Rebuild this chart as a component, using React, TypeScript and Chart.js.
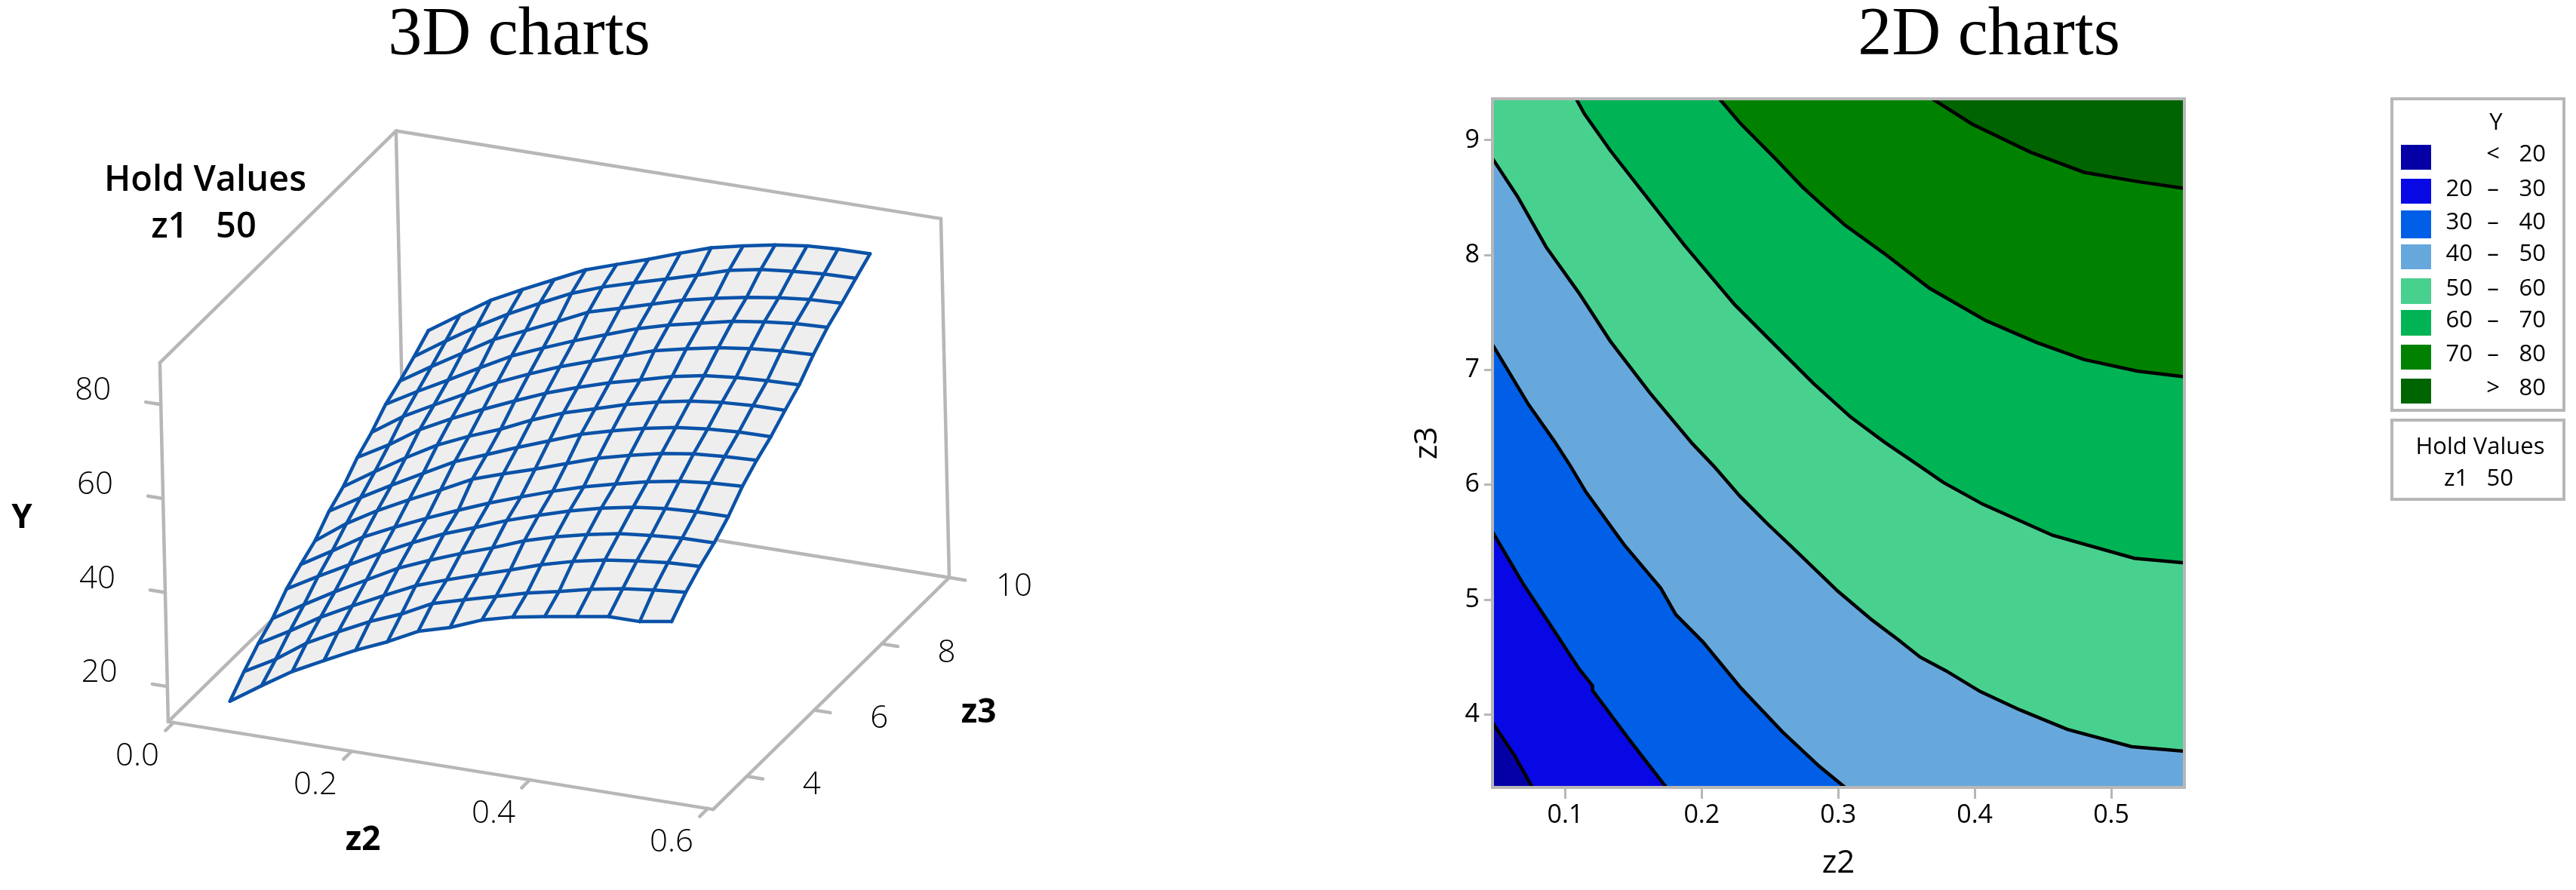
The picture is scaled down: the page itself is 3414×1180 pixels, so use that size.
import React, { useEffect, useRef } from "react";
import { Chart, registerables } from "chart.js";

Chart.register(...registerables);

// ---------- data ----------
const meshZ2 = [0.05, 0.086, 0.121, 0.157, 0.193, 0.229, 0.264, 0.3, 0.336, 0.371, 0.407, 0.443, 0.479, 0.514, 0.55];
const meshZ3 = [3.364, 3.793, 4.221, 4.65, 5.079, 5.507, 5.936, 6.364, 6.793, 7.221, 7.65, 8.079, 8.507, 8.936, 9.364];
const meshY = [
  [16, 20.4, 24.5, 27.9, 31.2, 34.1, 37.4, 39.3, 42, 43.7, 44.9, 46, 47.1, 47.1, 48.2],
  [19.3, 23, 27.5, 31, 34.3, 37, 40.3, 42.2, 44, 45.8, 47.2, 48.8, 50, 50.8, 51.4],
  [22.2, 26, 30, 33.5, 36.8, 40, 42.3, 44.5, 46.6, 48.8, 50.6, 52, 52.9, 53.6, 53.9],
  [24.5, 28.6, 32.4, 36, 39.6, 42.4, 44.9, 47.2, 49.8, 51.7, 53.3, 54.6, 55.3, 55.8, 55.9],
  [27.8, 31.6, 35.1, 38.7, 42, 45, 47.4, 50, 52.2, 54.2, 55.9, 57.2, 58, 58.4, 58.5],
  [30, 34, 38, 41.2, 44.2, 47, 49.6, 52, 54.3, 56.3, 58, 59.6, 60.8, 61.5, 61.9],
  [32, 36.8, 40.6, 44, 47.2, 50.6, 52.8, 54.9, 57.2, 59.4, 61.1, 62.6, 63.6, 64.1, 64.4],
  [35.3, 39.3, 43, 46.6, 50.2, 52.8, 55.4, 57.9, 60.4, 62.2, 63.8, 65.1, 65.9, 66.3, 66.4],
  [37.5, 41.8, 45.8, 49.6, 52.6, 55.2, 58.2, 60.8, 62.8, 64.8, 66.4, 67.7, 68.5, 68.9, 69],
  [40.7, 44.5, 48.8, 52.2, 55.3, 58.2, 60.9, 63.2, 65.3, 67, 68.8, 70.1, 70.8, 71.2, 71.4],
  [43, 47.5, 51, 54.5, 58, 60.9, 63.5, 65.8, 68, 70.2, 71.7, 73, 73.9, 74.5, 74.8],
  [46, 49.8, 53.3, 57, 60.6, 63.4, 66, 68.4, 70.8, 72.6, 74.1, 75.6, 76.6, 77.3, 77.6],
  [47.9, 52.1, 56, 60, 63, 66, 69.1, 71, 73, 74.9, 76.4, 77.7, 78.7, 79.4, 79.7],
  [50.1, 54.5, 58.6, 62.4, 65.8, 69, 71.4, 73.4, 75.3, 77.2, 79.3, 80.6, 81.3, 81.8, 82],
  [52.6, 57, 61.2, 64.6, 67.8, 71, 73.2, 75.4, 77.8, 80, 81.5, 82.8, 83.7, 84.1, 84.2],
];

const z2Ticks3D = [0, 0.2, 0.4, 0.6];
const z3Ticks3D = [4, 6, 8, 10];
const yTicks3D = [20, 40, 60, 80];

const contour20 = [[0.0467, 3.93], [0.063, 3.64], [0.076, 3.365]];
const contour30 = [[0.0467, 5.59], [0.069, 5.14], [0.088, 4.8], [0.11, 4.4], [0.12, 4.25], [0.12, 4.21], [0.147, 3.78], [0.174, 3.365]];
const contour40 = [[0.0467, 7.22], [0.073, 6.7], [0.092, 6.38], [0.104, 6.16], [0.115, 5.94], [0.143, 5.48], [0.17, 5.1], [0.181, 4.87], [0.201, 4.63], [0.228, 4.24], [0.259, 3.85], [0.286, 3.55], [0.305, 3.365]];
const contour50 = [[0.0467, 8.84], [0.065, 8.51], [0.086, 8.07], [0.11, 7.67], [0.133, 7.25], [0.162, 6.8], [0.193, 6.36], [0.209, 6.16], [0.228, 5.9], [0.249, 5.65], [0.265, 5.47], [0.3, 5.07], [0.325, 4.82], [0.344, 4.65], [0.36, 4.5], [0.379, 4.38], [0.404, 4.2], [0.433, 4.04], [0.468, 3.87], [0.515, 3.72], [0.5536, 3.68]];
const contour60 = [[0.108, 9.36], [0.114, 9.23], [0.133, 8.91], [0.158, 8.53], [0.187, 8.09], [0.224, 7.57], [0.255, 7.2], [0.282, 6.88], [0.309, 6.59], [0.334, 6.37], [0.36, 6.16], [0.377, 6.02], [0.406, 5.83], [0.457, 5.56], [0.517, 5.36], [0.5536, 5.32]];
const contour70 = [[0.213, 9.36], [0.228, 9.15], [0.253, 8.85], [0.274, 8.59], [0.286, 8.46], [0.305, 8.26], [0.333, 8.02], [0.367, 7.71], [0.408, 7.43], [0.445, 7.24], [0.48, 7.09], [0.519, 6.99], [0.5536, 6.94]];
const contour80 = [[0.369, 9.36], [0.398, 9.14], [0.441, 8.895], [0.48, 8.72], [0.519, 8.64], [0.5536, 8.58]];

const xTicks2D = [0.1, 0.2, 0.3, 0.4, 0.5];
const yTicks2D = [4, 5, 6, 7, 8, 9];
const z2Min = 0.0467, z2Max = 0.5536, z3Min = 3.365, z3Max = 9.36;

const legendColors = ["#0500A5", "#0808E5", "#005FE6", "#66A8DC", "#48D08F", "#00B355", "#008200", "#006400"];
const legendLow = ["", "20", "30", "40", "50", "60", "70", ""];
const legendSep = ["<", "–", "–", "–", "–", "–", "–", ">"];
const legendHigh = ["20", "30", "40", "50", "60", "70", "80", "80"];

// ---------- helpers ----------
const SANS = '"Open Sans", sans-serif';
const GREY = "#B7B7B7";
const MESH = "#0A52A8";

// Oblique projection of (z2, z3, Y) onto the left chart's plane
const project = (z2: number, z3: number, y: number) => {
  const up = (y - 12.5) * 6.23;
  return {
    x: 230 + 1180 * z2 + (z3 - 3) * 44.7 - up * 0.0231,
    y: 958 + 190 * z2 - (z3 - 3) * 43.9 - up,
  };
};

const Z2A = -0.006, Z2B = 0.606, Z3A = 3, Z3B = 10, YA = 12.5, YB = 88.9;

const seg = (pts: { x: number; y: number }[], color: string, width: number, order: number) => ({
  data: pts, showLine: true, borderColor: color, borderWidth: width, pointRadius: 0, order,
  fill: false, tension: 0, borderJoinStyle: "round" as const, borderCapStyle: "round" as const,
});

const buildBox = () => {
  const lines: [number, number, number, number, number, number][] = [
    [Z2A, Z3A, YA, Z2B, Z3A, YA], [Z2B, Z3A, YA, Z2B, Z3B, YA], [Z2B, Z3B, YA, Z2A, Z3B, YA], [Z2A, Z3B, YA, Z2A, Z3A, YA],
    [Z2A, Z3A, YA, Z2A, Z3A, YB], [Z2A, Z3B, YA, Z2A, Z3B, YB], [Z2B, Z3B, YA, Z2B, Z3B, YB],
    [Z2A, Z3A, YB, Z2A, Z3B, YB], [Z2A, Z3B, YB, Z2B, Z3B, YB],
  ];
  const out: any[] = lines.map((l) => seg([project(l[0], l[1], l[2]), project(l[3], l[4], l[5])], GREY, 4.5, 30));
  yTicks3D.forEach((v) => out.push(seg([project(Z2A, Z3A, v), project(Z2A - 0.017, Z3A, v)], GREY, 4.5, 30)));
  z2Ticks3D.forEach((v) => out.push(seg([project(v, Z3A, YA), project(v, Z3A - 0.24, YA)], GREY, 4.5, 30)));
  z3Ticks3D.forEach((v) => out.push(seg([project(Z2B, v, YA), project(Z2B + 0.018, v, YA)], GREY, 4.5, 30)));
  return out;
};

const buildSurface = () => {
  const n = meshZ2.length - 1, m = meshZ3.length - 1;
  const outline: { x: number; y: number }[] = [];
  for (let i = 0; i <= n; i++) outline.push(project(meshZ2[i], meshZ3[0], meshY[0][i]));
  for (let j = 1; j <= m; j++) outline.push(project(meshZ2[n], meshZ3[j], meshY[j][n]));
  for (let i = n - 1; i >= 0; i--) outline.push(project(meshZ2[i], meshZ3[m], meshY[m][i]));
  for (let j = m - 1; j > 0; j--) outline.push(project(meshZ2[0], meshZ3[j], meshY[j][0]));
  const out: any[] = [{
    data: outline, showLine: true, fill: "shape", backgroundColor: "#EEEEEE", borderColor: "rgba(0,0,0,0)",
    borderWidth: 0, pointRadius: 0, order: 20, tension: 0,
  }];
  meshZ3.forEach((z3, j) => out.push(seg(meshZ2.map((z2, i) => project(z2, z3, meshY[j][i])), MESH, 4.5, 10)));
  meshZ2.forEach((z2, i) => out.push(seg(meshZ3.map((z3, j) => project(z2, z3, meshY[j][i])), MESH, 4.5, 10)));
  return out;
};

const text = (ctx: CanvasRenderingContext2D, s: string, x: number, y: number, font: string, align: CanvasTextAlign = "center", base: CanvasTextBaseline = "middle") => {
  ctx.font = font; ctx.textAlign = align; ctx.textBaseline = base; ctx.fillStyle = "#000"; ctx.fillText(s, x, y);
};

const annotate3D = {
  id: "annotate3D",
  afterDraw(chart: any) {
    const ctx = chart.ctx;
    const sx = chart.scales.x, sy = chart.scales.y;
    const at = (p: { x: number; y: number }, dx: number, dy: number) => [sx.getPixelForValue(p.x) + dx, sy.getPixelForValue(p.y) + dy] as const;
    ctx.save();
    text(ctx, "3D charts", 688, 72, '90px "Liberation Serif", serif', "center", "alphabetic");
    const tick = `300 42px ${SANS}`;
    yTicks3D.forEach((v) => { const [x, y] = at(project(Z2A, Z3A, v), -90, -18); text(ctx, String(v), x, y, tick); });
    z2Ticks3D.forEach((v) => { const [x, y] = at(project(v, Z3A, YA), -48, 45); text(ctx, v.toFixed(1), x, y, tick); });
    z3Ticks3D.forEach((v) => { const [x, y] = at(project(Z2B, v, YA), 86, 12); text(ctx, String(v), x, y, tick); });
    const bold = `bold 44px ${SANS}`;
    text(ctx, "Y", 29, 687, bold);
    text(ctx, "z2", 481, 1114, bold);
    text(ctx, "z3", 1297, 945, bold);
    text(ctx, "Hold Values", 272, 240, `600 47px ${SANS}`);
    text(ctx, "z1   50", 270, 302, `600 47px ${SANS}`);
    ctx.restore();
  },
};

const OX = 1800; // left edge of the right-hand canvas

const annotate2D = {
  id: "annotate2D",
  afterDatasetsDraw(chart: any) {
    const { ctx, chartArea: a } = chart;
    ctx.save();
    ctx.strokeStyle = GREY; ctx.lineWidth = 4;
    ctx.strokeRect(a.left, a.top, a.right - a.left, a.bottom - a.top);
    ctx.restore();
  },
  afterDraw(chart: any) {
    const ctx = chart.ctx;
    ctx.save();
    text(ctx, "2D charts", 2636 - OX, 72, '90px "Liberation Serif", serif', "center", "alphabetic");
    ctx.strokeStyle = GREY; ctx.lineWidth = 4;
    ctx.strokeRect(3170 - OX, 131, 228, 413);
    ctx.strokeRect(3170 - OX, 557, 228, 105);
    const f = `500 31px ${SANS}`;
    text(ctx, "Y", 3308 - OX, 163, f);
    const rowTop = [192, 237, 279, 324, 369, 411, 457, 502];
    const rowH = [33, 33, 37, 33, 34, 34, 33, 33];
    const rowText = [205, 251, 295, 337, 383, 425, 470, 515];
    legendColors.forEach((c, i) => {
      ctx.fillStyle = c;
      ctx.fillRect(3182 - OX, rowTop[i], 40, rowH[i]);
      if (legendLow[i]) text(ctx, legendLow[i], 3277 - OX, rowText[i], f, "right");
      text(ctx, legendSep[i], 3304 - OX, rowText[i], f);
      text(ctx, legendHigh[i], 3374 - OX, rowText[i], f, "right");
    });
    text(ctx, "Hold Values", 3287 - OX, 593, f);
    text(ctx, "z1   50", 3285 - OX, 635, f);
    ctx.restore();
  },
};

const toPts = (c: number[][]) => c.map(([x, y]) => ({ x, y }));
const TL = [z2Min, z3Max], TR = [z2Max, z3Max], BR = [z2Max, z3Min], BL = [z2Min, z3Min];

const buildContours = () => {
  const regions: [number[][], string][] = [
    [[BL, BR, TR, TL], legendColors[0]],
    [[...contour20, BR, TR, TL], legendColors[1]],
    [[...contour30, BR, TR, TL], legendColors[2]],
    [[...contour40, BR, TR, TL], legendColors[3]],
    [[...contour50, TR, TL], legendColors[4]],
    [[...contour60, TR], legendColors[5]],
    [[...contour70, TR], legendColors[6]],
    [[...contour80, TR], legendColors[7]],
  ];
  const out: any[] = regions.map(([p, c], i) => ({
    data: toPts(p), showLine: true, fill: "shape", backgroundColor: c, borderColor: "rgba(0,0,0,0)",
    borderWidth: 0, pointRadius: 0, tension: 0, order: 20 - i,
  }));
  [contour20, contour30, contour40, contour50, contour60, contour70, contour80].forEach((c) => {
    out.push({ data: toPts(c), showLine: true, fill: false, borderColor: "#000", borderWidth: 4.5, pointRadius: 0, tension: 0, order: 1 });
  });
  return out;
};

export default function App() {
  const left = useRef<HTMLCanvasElement>(null);
  const right = useRef<HTMLCanvasElement>(null);

  useEffect(() => {
    const base = { responsive: false, animation: false as const, devicePixelRatio: 1 };
    const c1 = new Chart(left.current!, {
      type: "scatter",
      data: { datasets: [...buildBox(), ...buildSurface()] },
      options: {
        ...base,
        layout: { padding: 0 },
        plugins: { legend: { display: false }, tooltip: { enabled: false }, filler: { drawTime: "beforeDatasetDraw" } } as any,
        scales: {
          x: { type: "linear", min: 0, max: 1400, display: false },
          y: { type: "linear", min: 0, max: 1180, reverse: true, display: false },
        },
      },
      plugins: [annotate3D],
    });
    const axisFont = { family: SANS, size: 34, weight: 500 };
    const c2 = new Chart(right.current!, {
      type: "scatter",
      data: { datasets: buildContours() },
      options: {
        ...base,
        layout: { padding: { top: 131, right: 3414 - 2895, left: 0, bottom: 0 } },
        plugins: { legend: { display: false }, tooltip: { enabled: false } },
        scales: {
          x: {
            type: "linear", min: z2Min, max: z2Max,
            afterBuildTicks: (s: any) => { s.ticks = xTicks2D.map((value) => ({ value })); },
            afterFit: (s: any) => { s.height = 1180 - 1044; },
            ticks: { font: axisFont, color: "#000", padding: 2, maxRotation: 0, autoSkip: false, callback: (v: any) => Number(v).toFixed(1) },
            grid: { drawOnChartArea: false, color: GREY, tickColor: GREY, tickWidth: 3, tickLength: 15 },
            border: { color: GREY, width: 4 },
            title: { display: true, text: "z2", color: "#000", font: { family: SANS, size: 42, weight: 500 }, padding: { top: 0, bottom: 10 } },
          },
          y: {
            type: "linear", min: z3Min, max: z3Max,
            afterBuildTicks: (s: any) => { s.ticks = yTicks2D.map((value) => ({ value })); },
            afterFit: (s: any) => { s.width = 1978 - OX; },
            ticks: { font: axisFont, color: "#000", padding: 6, autoSkip: false, callback: (v: any) => String(v) },
            grid: { drawOnChartArea: false, color: GREY, tickColor: GREY, tickWidth: 3, tickLength: 11 },
            border: { color: GREY, width: 4 },
            title: { display: true, text: "z3", color: "#000", font: { family: SANS, size: 42, weight: 500 }, padding: { top: 67, bottom: 0 } },
          },
        },
      },
      plugins: [annotate2D],
    });
    return () => { c1.destroy(); c2.destroy(); };
  }, []);

  return (
    <div style={{ position: "fixed", left: 0, top: 0, width: 3414, height: 1180, background: "#fff", overflow: "hidden" }}>
      <canvas ref={left} width={1400} height={1180} style={{ position: "absolute", left: 0, top: 0 }} />
      <canvas ref={right} width={3414 - OX} height={1180} style={{ position: "absolute", left: OX, top: 0 }} />
    </div>
  );
}
